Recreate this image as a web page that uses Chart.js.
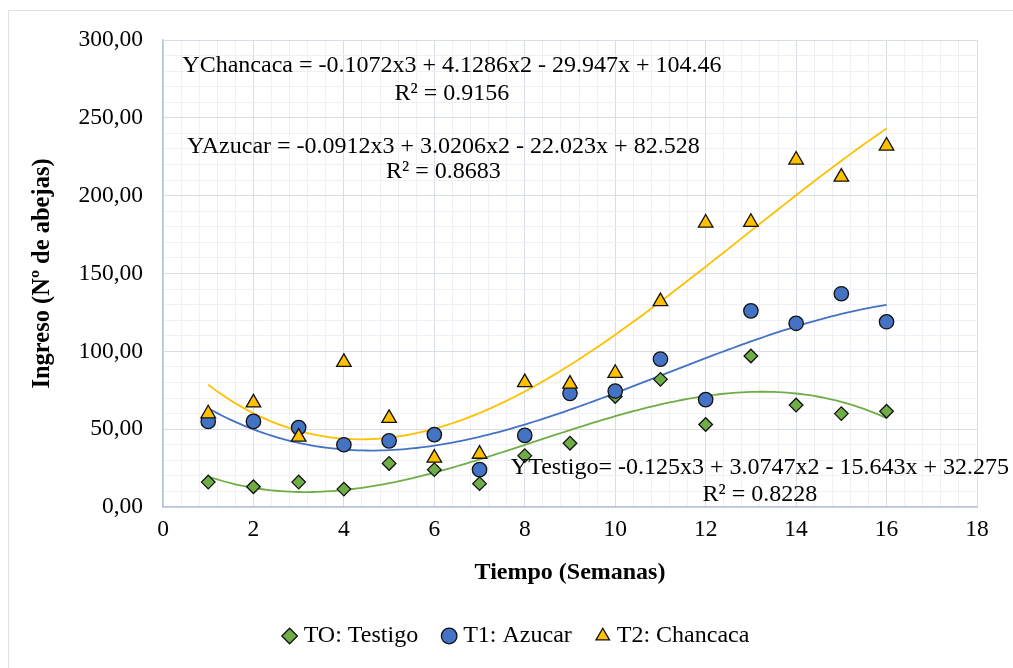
<!DOCTYPE html>
<html>
<head>
<meta charset="utf-8">
<script src="https://cdn.jsdelivr.net/npm/chart.js@4"></script>
<style>
  html, body { margin: 0; padding: 0; background: #fff; overflow: hidden; }
  #wrap { position: relative; width: 1013px; height: 668px; }
  #frame { position: absolute; left: 8px; top: 10px; width: 1100px; height: 700px; border: 1.5px solid #dde2ea; }
  canvas { position: absolute; left: 0; top: 0; }
</style>
</head>
<body>
<div id="wrap">
  <div id="frame"></div>
  <canvas id="chart" width="1013" height="668"></canvas>
</div>
<script>
const semanas = [1, 2, 3, 4, 5, 6, 7, 8, 9, 10, 11, 12, 13, 14, 15, 16];
const testigo = [16, 13, 16, 11.5, 28, 24, 15, 33, 41, 71, 82, 53, 97, 65.5, 60, 61.5];
const azucar = [55, 55, 51, 40, 42.5, 46.5, 24, 46, 73, 74.5, 95, 69, 126, 118, 137, 119];
const chancaca = [60, 67, 45, 93, 57, 31.5, 34, 80, 79, 86, 132, 182.5, 183, 223, 212, 232];

// trendline coefficients as printed on the chart: [x3, x2, x, const]
const coefTestigo = [-0.125, 3.0747, -15.643, 32.275];
const coefAzucar = [-0.0912, 3.0206, -22.023, 82.528];
const coefChancaca = [-0.1072, 4.1286, -29.947, 104.46];

const seriesNames = ['TO: Testigo', 'T1: Azucar', 'T2: Chancaca'];
const eqTexts = [
  ['YChancaca = -0.1072x3 + 4.1286x2 - 29.947x + 104.46', 'R² = 0.9156'],
  ['YAzucar = -0.0912x3 + 3.0206x2 - 22.023x + 82.528', 'R² = 0.8683'],
  ['YTestigo= -0.125x3 + 3.0747x2 - 15.643x + 32.275', 'R² = 0.8228']
];

const GREEN = '#70AD47', BLUE = '#4472C4', GOLD = '#FFC000';
const FONT = 'Liberation Serif, Times New Roman, serif';

function pts(ys) {
  return semanas.map((x, i) => ({ x: x, y: ys[i] }));
}

// Excel polynomial trendline, evaluated across the fitted weeks
function trend(c) {
  const out = [];
  for (let x = semanas[0]; x <= semanas[semanas.length - 1] + 1e-9; x += 0.1) {
    out.push({ x: x, y: ((c[0] * x + c[1]) * x + c[2]) * x + c[3] });
  }
  return out;
}

function isMult(v, step) {
  return Math.abs(v / step - Math.round(v / step)) < 1e-6;
}

// equation labels, anchored in data units
const eqPlacement = [
  { x: 6.39, y1: 283.3, y2: 265.3 },
  { x: 6.2, y1: 231.3, y2: 215.2 },
  { x: 13.2, y1: 25.3, y2: 7.8 }
];

const equationLabels = {
  id: 'equationLabels',
  afterDatasetsDraw(chart) {
    const { ctx, scales: { x, y } } = chart;
    ctx.save();
    ctx.font = '24px ' + FONT;
    ctx.fillStyle = '#000';
    ctx.textAlign = 'center';
    ctx.textBaseline = 'middle';
    eqPlacement.forEach((p, i) => {
      const px = x.getPixelForValue(p.x);
      ctx.fillText(eqTexts[i][0], px, y.getPixelForValue(p.y1));
      ctx.fillText(eqTexts[i][1], px, y.getPixelForValue(p.y2));
    });
    ctx.restore();
  }
};

// the legend sits centred on the outer frame, a bit right of the canvas centre
const legendShift = {
  id: 'legendShift',
  afterLayout(chart) {
    if (chart.legend) {
      chart.legend.left += 16;
      chart.legend.right += 16;
    }
  }
};

const markerBase = { borderColor: '#111', borderWidth: 1.3, pointBorderWidth: 1.3 };

new Chart(document.getElementById('chart'), {
  type: 'scatter',
  data: {
    datasets: [
      { ...markerBase, label: seriesNames[0], data: pts(testigo), backgroundColor: GREEN,
        pointStyle: 'rectRot', pointRadius: 6.8, order: 2 },
      { ...markerBase, label: seriesNames[1], data: pts(azucar), backgroundColor: BLUE,
        pointStyle: 'circle', pointRadius: 7.2, order: 1 },
      { ...markerBase, label: seriesNames[2], data: pts(chancaca), backgroundColor: GOLD,
        pointStyle: 'triangle', pointRadius: 8.4, order: 0 },
      { label: 'trend T0', data: trend(coefTestigo), showLine: true, pointRadius: 0,
        borderColor: GREEN, borderWidth: 1.8, order: 5 },
      { label: 'trend T1', data: trend(coefAzucar), showLine: true, pointRadius: 0,
        borderColor: BLUE, borderWidth: 1.8, order: 5 },
      { label: 'trend T2', data: trend(coefChancaca), showLine: true, pointRadius: 0,
        borderColor: GOLD, borderWidth: 1.8, order: 5 }
    ]
  },
  options: {
    responsive: false,
    animation: false,
    layout: { padding: { left: 28, right: 36, top: 40, bottom: 10 } },
    plugins: {
      tooltip: { enabled: false },
      legend: {
        position: 'bottom',
        labels: {
          usePointStyle: true,
          boxHeight: 11,
          boxWidth: 4,
          padding: 29,
          color: '#000',
          font: { family: FONT, size: 24 },
          filter: item => item.datasetIndex < 3,
          sort: (a, b) => a.datasetIndex - b.datasetIndex
        }
      }
    },
    scales: {
      x: {
        type: 'linear',
        min: 0,
        max: 18,
        afterFit: s => { s.height = 88; },
        ticks: {
          stepSize: 0.4,
          autoSkip: false,
          maxRotation: 0,
          padding: 9,
          color: '#000',
          font: { family: FONT, size: 23.5 },
          callback: v => isMult(v, 2) ? String(Math.round(v)) : ''
        },
        grid: {
          drawTicks: false,
          color: c => isMult(c.tick.value, 2) ? '#d8dde6' : '#eef0f5'
        },
        border: { color: '#b9c4d6', width: 1.5 },
        title: {
          display: true,
          text: 'Tiempo (Semanas)',
          color: '#000',
          font: { family: FONT, size: 24, weight: 'bold' },
          padding: { top: 0, bottom: 8 }
        }
      },
      y: {
        min: 0,
        max: 300,
        afterFit: s => { s.width = 135; },
        ticks: {
          stepSize: 10,
          autoSkip: false,
          padding: 20,
          color: '#000',
          font: { family: FONT, size: 23.5 },
          callback: v => isMult(v, 50) ? v.toFixed(2).replace('.', ',') : ''
        },
        grid: {
          drawTicks: false,
          color: c => isMult(c.tick.value, 50) ? '#d8dde6' : '#eef0f5'
        },
        border: { color: '#b9c4d6', width: 1.5 },
        title: {
          display: true,
          text: 'Ingreso (Nº de abejas)',
          color: '#000',
          font: { family: FONT, size: 24.5, weight: 'bold' },
          padding: { top: 0, bottom: 0 }
        }
      }
    }
  },
  plugins: [equationLabels, legendShift]
});
</script>
</body>
</html>
